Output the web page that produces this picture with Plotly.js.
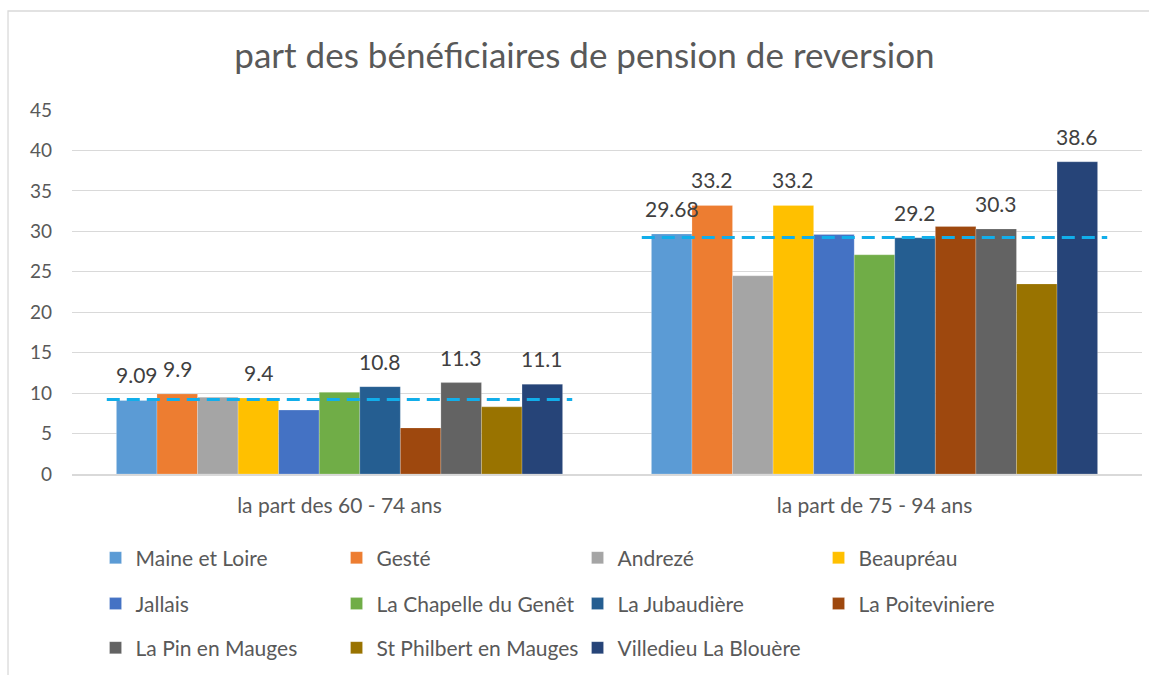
<!DOCTYPE html>
<html>
<head>
<meta charset="utf-8">
<script src="https://cdn.plot.ly/plotly-3.0.1.min.js"></script>
<style>html,body{margin:0;padding:0;background:#fff;}#chart{width:1149px;height:675px;}</style>
</head>
<body>
<div id="chart"></div>
<script>
const categories = ["la part des 60 - 74 ans", "la part de 75 - 94 ans"];
const seriesNames = ["Maine et Loire", "Gesté", "Andrezé", "Beaupréau", "Jallais", "La Chapelle du Genêt", "La Jubaudière", "La Poiteviniere", "La Pin en Mauges", "St Philbert en Mauges", "Villedieu La Blouère"];
const maineEtLoire = [9.09, 29.68];
const geste = [9.9, 33.2];
const andreze = [9.5, 24.5];
const beaupreau = [9.4, 33.2];
const jallais = [7.9, 29.6];
const laChapelle = [10.1, 27.1];
const laJubaudiere = [10.8, 29.2];
const laPoiteviniere = [5.7, 30.6];
const laPin = [11.3, 30.3];
const stPhilbert = [8.3, 23.5];
const villedieu = [11.1, 38.6];
const refLine = [9.2, 29.25];
const labelled = [true, true, false, true, false, false, true, false, true, false, true];
const colors = ["#5B9BD5", "#ED7D31", "#A5A5A5", "#FFC000", "#4472C4", "#70AD47", "#255E91", "#9E480E", "#636363", "#997300", "#264478"];

const allValues = [maineEtLoire, geste, andreze, beaupreau, jallais, laChapelle, laJubaudiere, laPoiteviniere, laPin, stPhilbert, villedieu];
const FONT = "Lato, 'Open Sans', sans-serif";
const bargap = 0.166;
const nS = allValues.length;
const groupW = 1 - bargap;

const legendFor = i => (i < 4 ? "legend" : (i < 8 ? "legend2" : "legend3"));

const traces = allValues.map((vals, i) => ({
  type: "bar",
  name: seriesNames[i],
  x: categories,
  y: vals,
  marker: {color: colors[i], line: {color: "rgba(255,255,255,0.35)", width: 0.6}},
  legend: legendFor(i),
  hoverinfo: "name+y"
}));

const annotations = [];
allValues.forEach((vals, i) => {
  if (!labelled[i]) return;
  vals.forEach((v, j) => {
    annotations.push({
      x: j - groupW / 2 + (i + 0.5) * groupW / nS,
      y: v, xref: "x", yref: "y",
      text: String(v), showarrow: false,
      yanchor: "bottom", yshift: 11,
      font: {family: FONT, size: 21, color: "#404040"}
    });
  });
});

const shapes = refLine.map((v, j) => ({
  type: "line", xref: "x", yref: "y",
  x0: j - 0.435, x1: j + 0.435, y0: v, y1: v,
  line: {color: "#12AEEA", width: 3, dash: "13px,7px"}
}));
shapes.push({
  type: "rect", xref: "paper", yref: "paper",
  x0: -0.0598, x1: 1.05, y0: -0.75, y1: 1.272,
  line: {color: "#D9D9D9", width: 1.3}, fillcolor: "rgba(0,0,0,0)", layer: "below"
});

const legendBase = {
  orientation: "h", xref: "paper", yref: "paper", xanchor: "left", yanchor: "middle",
  entrywidth: 196, entrywidthmode: "pixels", traceorder: "normal",
  font: {family: FONT, size: 21, color: "#595959"}, bgcolor: "rgba(0,0,0,0)"
};

const layout = {
  width: 1149, height: 675,
  margin: {l: 72, r: 7, t: 110, b: 201},
  paper_bgcolor: "#ffffff", plot_bgcolor: "#ffffff",
  title: {text: "part des bénéficiaires de pension de reversion", x: 0.5087, xref: "container", xanchor: "center",
          y: 0.918, yanchor: "middle",
          font: {family: FONT, size: 35, color: "#595959"}},
  barmode: "group", bargap: bargap, bargroupgap: 0,
  xaxis: {type: "category", showgrid: false, showline: true, linecolor: "#D9D9D9", linewidth: 1.5,
          ticks: "", tickfont: {family: FONT, size: 21, color: "#595959"}, ticklabelstandoff: 12, fixedrange: true},
  yaxis: {range: [0, 45], dtick: 5, showgrid: true, gridcolor: "#D9D9D9", gridwidth: 1.3, zeroline: false,
          showline: false, ticks: "", tickfont: {family: FONT, size: 19, color: "#595959"}, ticklabelstandoff: 19, fixedrange: true},
  legend: Object.assign({}, legendBase, {x: 0.022, y: -0.2308}),
  legend2: Object.assign({}, legendBase, {x: 0.022, y: -0.357}),
  legend3: Object.assign({}, legendBase, {x: 0.022, y: -0.478}),
  annotations: annotations,
  shapes: shapes,
  showlegend: true
};

Plotly.newPlot("chart", traces, layout, {displayModeBar: false, staticPlot: false});
</script>
</body>
</html>
